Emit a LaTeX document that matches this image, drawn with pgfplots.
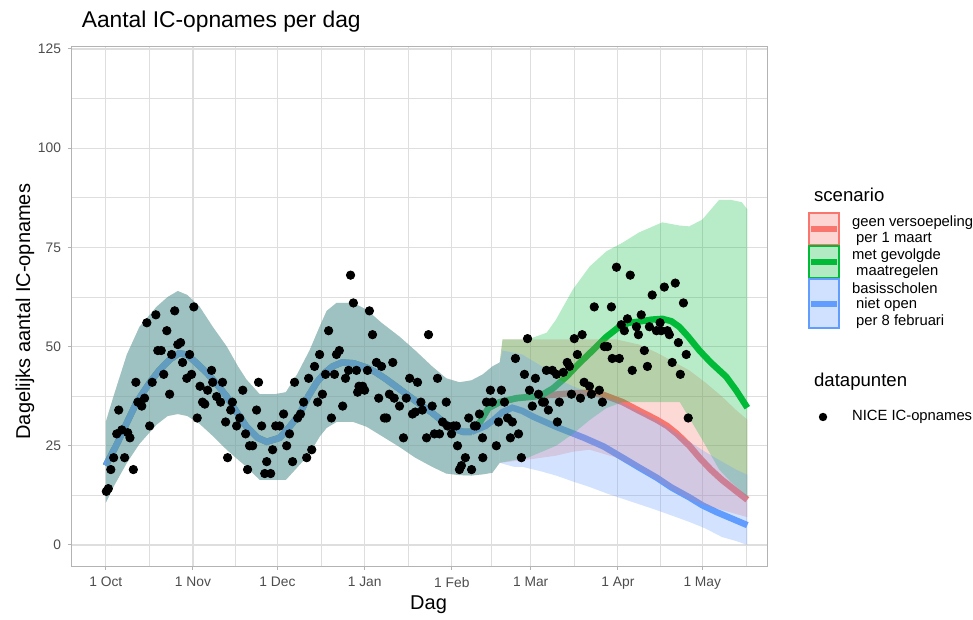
\documentclass[border=0pt]{standalone}
\usepackage{pgfplots}
\pgfplotsset{compat=1.18}
\usepackage{pgfplotstable}
\usepackage{fontspec}
\setmainfont{Liberation Sans}

\definecolor{gred}{HTML}{F8766D}
\definecolor{ggreen}{HTML}{00BA38}
\definecolor{gblue}{HTML}{619CFF}
\definecolor{gridc}{RGB}{222,222,222}
\definecolor{borderc}{RGB}{179,179,179}
\definecolor{tickc}{RGB}{77,77,77}

% shared band up to mid February: upper edge forward, lower edge back
\pgfplotstableread{
day val
0 31
3 38
7.5 48
12 55
18 60
22 62.5
25.6 64
29 63
33.4 60
38 55
43 50
47 45
50 41.7
54.7 38
60 38
64 38.5
68 43
72.4 49
76 55
78.5 59
82 61
88 61
92.7 59.3
98 56
104.4 52.5
110 49
116 45
121 42
125.7 41
130 41.5
134 43
137.4 45
140 46
140 20.7
137.4 18.2
134 17.8
130 17.5
125.7 17.6
121 18
116 19.7
110 22
104.4 24.7
98 27.5
92.7 29.8
88 31
82 31
78.5 29.5
76 27.3
72.4 23
68 19.5
64 16.4
60 16.4
54.7 16.4
50 19.7
47 21.5
43 24
38 27.5
33.4 30.5
29 32.5
25.6 33
22 32.5
18 30.3
12 25.5
7.5 20.7
3 15
0 10.6
}\hist

% scenario bands from mid February (upper forward, lower back)
\pgfplotstableread{
day val
140 46
141 51.8
150 51.8
160 51.8
170 51.8
181.5 51.8
189.6 50.5
195.7 48.5
201 46.5
207.4 44
213 41
219 37.4
224 34
228 31.6
228 7
224 7.8
219 8.8
213 10
207.4 11.5
201 14
195.7 16.4
189.6 19
181.5 22
172 24
166 23.5
160 22.5
150 21.5
140 20.7
}\redband

\pgfplotstableread{
day val
140 46
141 51.8
150 51.8
156.7 53.5
160 56.8
166 64.4
172 70.2
177.9 74
183.7 76.2
189.6 78.8
197.8 81.3
204 80.5
207.4 80.3
212 82
218 87
222 87
226 86.4
228 84.6
228 12
226 13.5
222 16
218 19
212 26.5
207.4 32
204 36
197.8 36
189.6 36
183.7 36
177.9 34.5
172 31.5
166 28
160 25
156.7 24
150 22
140 20.7
}\greenband

\pgfplotstableread{
day val
140 46
141 49
148 48
155 45
160 42
166 40
172 38.4
178 37
183 36
190.7 33.3
195.7 31.6
202.8 28.3
207.4 26
213 23.5
219 21
224 19
228 17.7
228 0
224 1
219 2
213 4.2
207.4 5.8
202.8 7
195.7 8.8
190.7 10
183 11.8
178 13
172 14.6
166 16
160 17.5
155 18.5
148 19.7
145 19.7
140 20.7
}\blueband

\pgfplotstableread{
day val
0 20
4 25.5
7.5 30.8
11 36
15.6 40.9
19 44
22.7 46.7
26 48.3
28.8 48
32 46
35.9 43.4
39.5 40.5
43 37.4
46.5 33.5
50 29.8
54 27
57.2 26
61.8 27
65 29.5
68.9 33
72 37.5
75 41
78 43.5
80.6 45
84 46
88 45.8
92.7 44.7
96 43.5
99.8 41.7
104 39.5
108 37.4
112 35.3
116 33.3
120 31
123 29.5
127 28.5
130 28.5
}\histline

\pgfplotstableread{
day val
130 28.5
133 31
136 34.5
140 36
146 37
152 37.4
158 37.8
165 38.2
171.6 38.4
177 37.8
183.7 36
189.6 33.8
195.7 31.6
199.5 30
203 28
207.4 25
211 22
215 19
219 16.4
224 13.6
228 11.4
}\redline

\pgfplotstableread{
day val
130 28.5
133 31
136 34.5
140 36
146 37
152 37.4
155 37.8
159 39.5
163.7 42.4
168 45.6
173 49
178 52.5
182.5 55
186 56
189.6 56.3
194 56.8
197.8 57
201 56.4
203.8 55
207 52.5
211 49
215 46
220.5 42.4
224 39
228 34.6
}\greenline

\pgfplotstableread{
day val
130 28.5
135 30
138 31.6
141 33.5
144.5 34.6
148 33.8
152 32.3
160 29.8
170 27
177 24.8
183.7 22
189.6 19.5
195.7 17
201 14.5
207.4 12
212 10
217 8.3
222 6.8
228 5
}\blueline

\pgfplotstableread{
day val
0.2 13.5
0.9 14.2
1.8 19
2.8 22
6.7 22
9.8 19
3.9 28
5.7 29
7.8 28.3
8.6 27
4.6 34
15.6 30
10.7 41
11.4 36
12.8 35
13.8 37
16.5 41
14.6 56
17.8 58
21.7 54
24.5 59
31.3 60
18.5 49
19.7 49
23.4 48
25.6 50.5
26.6 51
27.3 46
29.8 48
20.6 43
22.7 38
28.8 42
30.5 43
33.5 40
36.2 39
35.2 35.5
34.4 36
32.5 32
37.6 44
38 41
41.5 41
39.4 37.4
40.8 36
45 36
42.6 31
44.4 34
46.5 30
47.6 32
48.7 39
49.7 28
51.1 25
52.2 25
43.3 22
50.4 19
53.6 34
54.3 41
55.4 30
57.2 21
56.5 18
58.6 18
59.3 24
60.4 30
61.8 30
63.2 33
64.3 25
65.3 28
66.4 21
67.1 41
68.2 32
69.2 33
70.3 36
71.4 22
72.1 42
73.2 24
74.2 45
75.3 36
76 48
77 38
79.2 54
82 48
83 49
78.1 43
81.3 43
85.2 42
86.3 44
89.1 44
93 44
87 68
88 61
93.7 59
94.8 53
114.7 53
96.2 46
98 45
102 46
108 42
110.8 41
117.9 42
90 40
91.3 40
89.5 38.5
92 39
97 37
100.8 38
102.5 37
104.4 35
106.8 37
112 36
112.5 34
116 35
121 36
84.2 35
80.2 32
99 32
99.8 32
109 33
110 33.5
105.8 27
114 27
116.8 28
118.6 28
119.7 31
121.4 30
123.6 30
124.6 30
122.9 28
125 25
127.8 22
126.4 20
125.7 19
130 19
129 32
131.7 30
131 30
132.8 33
133.9 27
134 22
135.3 36
137.4 36
136.7 39
140.6 39
138.8 25
139.6 31
141.7 36
142.8 32
144.5 31
143.8 27
146.7 28
147.7 22
145.6 47
149.9 52
148.8 43
152.7 42
150.6 39
151.6 35
153.8 38
155.2 36
155.9 36
156.6 44
157.3 34
158.7 44
160.2 43
162.6 43.5
164 46
164.8 45
161.2 36
160.5 31
165.5 38
168.7 37
172.6 38
175.4 39
176.5 36
170 41
171.9 40
166.5 52
169.3 53
167.6 48
177.2 50
178.3 50
180 47
182.5 47
183.2 55.5
184.3 54
187.1 44
173.6 60
179.7 60
181.5 70
186.4 68
185.4 57
190.3 58
188.6 55
189.3 53
193.2 55
195.7 54
197 56
197.4 54
199.6 54
200.3 53
194.2 63
198.5 65
202.4 66
205.3 61
203.5 51
206.3 48
191.4 49
201.3 46
192.5 45
204.2 43
207 32
}\pts

\begin{document}
\begin{tikzpicture}
\begin{axis}[
  at={(0,0)}, anchor=south west,
  scale only axis, width=347.5pt, height=259.5pt,
  xmin=-12, xmax=235, ymin=-5.3, ymax=125.5,
  axis line style={borderc, line width=0.5pt},
  xtick={0,31,61,92,123,151,182,212},
  xticklabels={1 Oct,1 Nov,1 Dec,1 Jan,1 Feb,1 Mar,1 Apr,1 May},
  minor xtick={15.5,46,76.5,107.5,137,166.5,197,227.5},
  ytick={0,25,50,75,100,125},
  minor ytick={12.5,37.5,62.5,87.5,112.5},
  grid=both,
  major grid style={gridc, line width=0.55pt},
  minor grid style={gridc, line width=0.3pt},
  tick align=outside, xtick pos=bottom, ytick pos=left,
  major tick length=2pt, minor tick length=0pt,
  tick style={borderc, line width=0.5pt},
  ticklabel style={font=\fontsize{6.9}{8}\selectfont, text=tickc},
  /pgf/number format/assume math mode=true,
  title={Aantal IC-opnames per dag},
  every axis title/.style={at={(axis description cs:0.004,1.037)}, anchor=base west, font=\fontsize{11.4}{13}\selectfont},
  xlabel={Dag}, ylabel={Dagelijks aantal IC-opnames},
  every axis x label/.style={at={(axis description cs:0.513,-0.075)}, anchor=center, font=\fontsize{10}{12}\selectfont},
  every axis y label/.style={at={(axis description cs:-0.0676,0.49)}, rotate=90, anchor=center, font=\fontsize{10}{12}\selectfont},
]
% fitted lines (under the ribbons)
\addplot[gred, line width=3.2pt] table[x=day, y=val] {\histline};
\addplot[gred, line width=3.2pt] table[x=day, y=val] {\redline};
\addplot[ggreen, line width=3.2pt] table[x=day, y=val] {\histline};
\addplot[ggreen, line width=3.2pt] table[x=day, y=val] {\greenline};
\addplot[gblue, line width=3.2pt] table[x=day, y=val] {\histline};
\addplot[gblue, line width=3.2pt] table[x=day, y=val] {\blueline};
% ribbons
\addplot[draw=none, fill=gred, fill opacity=0.28] table[x=day, y=val] {\hist};
\addplot[draw=none, fill=gred, fill opacity=0.28] table[x=day, y=val] {\redband};
\addplot[draw=none, fill=ggreen, fill opacity=0.28] table[x=day, y=val] {\hist};
\addplot[draw=none, fill=ggreen, fill opacity=0.28] table[x=day, y=val] {\greenband};
\addplot[draw=none, fill=gblue, fill opacity=0.28] table[x=day, y=val] {\hist};
\addplot[draw=none, fill=gblue, fill opacity=0.28] table[x=day, y=val] {\blueband};
% observations
\addplot[only marks, mark=*, mark size=2.1pt, black] table[x=day, y=val] {\pts};
\end{axis}
% legend
\begin{scope}[font=\fontsize{7.4}{9}\selectfont]
\node[anchor=west, font=\fontsize{9.3}{11}\selectfont] at (367.5pt,185.5pt) {scenario};
\filldraw[fill=gred, fill opacity=0.3, draw=gred, line width=0.7pt] (368.5pt,160.5pt) rectangle (383.5pt,176.5pt);
\draw[gred, line width=3pt] (369.5pt,168.5pt) -- (382.5pt,168.5pt);
\filldraw[fill=ggreen, fill opacity=0.3, draw=ggreen, line width=0.7pt] (368.5pt,144pt) rectangle (383.5pt,160pt);
\draw[ggreen, line width=3pt] (369.5pt,152pt) -- (382.5pt,152pt);
\filldraw[fill=gblue, fill opacity=0.3, draw=gblue, line width=0.7pt] (368.5pt,119pt) rectangle (383.5pt,143.5pt);
\draw[gblue, line width=3pt] (369.5pt,131pt) -- (382.5pt,131pt);
\node[anchor=west] at (386.5pt,171.5pt) {geen versoepeling};
\node[anchor=west] at (386.5pt,163.5pt) {\ per 1 maart};
\node[anchor=west] at (386.5pt,155pt) {met gevolgde};
\node[anchor=west] at (386.5pt,147pt) {\ maatregelen};
\node[anchor=west] at (386.5pt,139pt) {basisscholen};
\node[anchor=west] at (386.5pt,130.5pt) {\ niet open};
\node[anchor=west] at (386.5pt,122pt) {\ per 8 februari};
\node[anchor=west, font=\fontsize{9.3}{11}\selectfont] at (367.5pt,92pt) {datapunten};
\fill[black] (375.5pt,74.5pt) circle (2.1pt);
\node[anchor=west] at (386.5pt,74.5pt) {NICE IC-opnames};
\end{scope}
\pgfresetboundingbox
\useasboundingbox (-36pt,-27pt) rectangle (450.5pt,283pt);
\end{tikzpicture}
\end{document}
